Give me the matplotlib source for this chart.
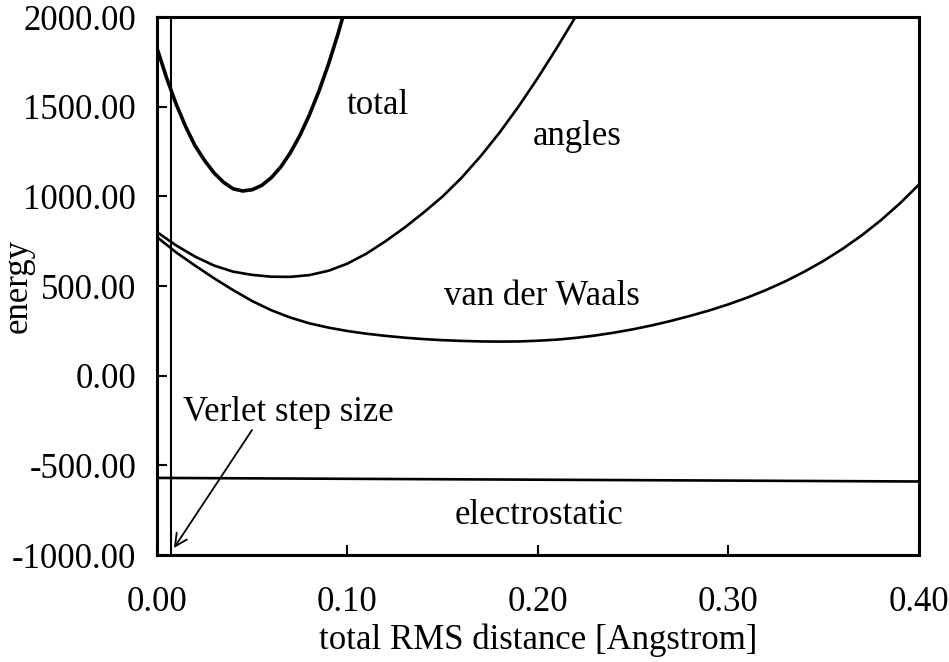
import matplotlib
matplotlib.use("Agg")
import matplotlib.pyplot as plt
from matplotlib.ticker import FormatStrFormatter

plt.rcParams['font.family'] = ['Liberation Serif', 'DejaVu Serif']
plt.rcParams['axes.unicode_minus'] = False

# ---- data ----
total_x = [0.0, 0.005, 0.01, 0.015, 0.02, 0.025, 0.03, 0.035, 0.04, 0.045, 0.05,
           0.055, 0.06, 0.065, 0.07, 0.075, 0.08, 0.085, 0.09, 0.095, 0.1]
total_y = [1827, 1662, 1516, 1390, 1282, 1200, 1130, 1078, 1042, 1030, 1037,
           1061, 1104, 1164, 1243, 1339, 1454, 1586, 1736, 1905, 2091]

angles_x = [0.0, 0.01, 0.02, 0.03, 0.04, 0.05, 0.06, 0.07, 0.08, 0.09, 0.10, 0.11,
            0.12, 0.13, 0.14, 0.15, 0.16, 0.17, 0.18, 0.19, 0.20, 0.21, 0.22, 0.23]
angles_y = [801, 727, 664, 614, 580, 562, 552, 551, 561, 585, 625, 681,
            750, 826, 910, 1000, 1105, 1225, 1358, 1504, 1662, 1830, 2006, 2190]

vdw_x = [0.0, 0.01, 0.02, 0.03, 0.04, 0.05, 0.06, 0.07, 0.08, 0.09, 0.10,
         0.11, 0.12, 0.13, 0.14, 0.15, 0.16, 0.17, 0.18, 0.19, 0.20,
         0.21, 0.22, 0.23, 0.24, 0.25, 0.26, 0.27, 0.28, 0.29, 0.30,
         0.31, 0.32, 0.33, 0.34, 0.35, 0.36, 0.37, 0.38, 0.39, 0.40]
vdw_y = [773, 688, 614, 543, 477, 416, 365, 324, 292, 268, 249,
         234, 222, 212, 204, 198, 194, 191, 190, 191, 195,
         201, 211, 224, 240, 259, 281, 306, 334, 364, 398,
         436, 479, 527, 581, 641, 708, 783, 867, 961, 1066]

elec_x = [0.0, 0.40]
elec_y = [-570, -590]

verlet_step = 0.0073

x_ticks = [0.0, 0.1, 0.2, 0.3, 0.4]
y_ticks = [-1000, -500, 0, 500, 1000, 1500, 2000]

labels = [
    ("total", 0.116, 1509),
    ("angles", 0.2205, 1331),
    ("van der Waals", 0.202, 444),
    ("electrostatic", 0.2005, -777),
    ("Verlet step size", 0.069, -203),
]
arrow_tail = (0.0499, -303)
arrow_head = (0.0089, -961)

fig = plt.figure(figsize=(9.49, 6.62), dpi=100)
ax = fig.add_axes([0.1654, 0.1616, 0.8030, 0.8127])

ax.plot(total_x, total_y, color='black', lw=2.6)
ax.plot(angles_x, angles_y, color='black', lw=1.9)
ax.plot(vdw_x, vdw_y, color='black', lw=1.9)
ax.plot(elec_x, elec_y, color='black', lw=1.9)
ax.axvline(verlet_step, color='black', lw=1.5)

fs = 25
for txt, x, y in labels:
    ax.text(x, y, txt, fontsize=fs, ha='center', va='center')

ax.annotate("", xy=arrow_head, xytext=arrow_tail,
            arrowprops=dict(arrowstyle='->', color='black', lw=1.3,
                            shrinkA=0, shrinkB=0, mutation_scale=22))

ax.set_xlim(0, 0.4)
ax.set_ylim(-1000, 2000)
ax.set_xticks(x_ticks)
ax.set_yticks(y_ticks)
ax.xaxis.set_major_formatter(FormatStrFormatter('%.2f'))
ax.yaxis.set_major_formatter(FormatStrFormatter('%.2f'))
ax.tick_params(direction='in', length=7, width=1.5, labelsize=fs,
               top=False, right=False)
ax.tick_params(axis='x', pad=22)
ax.tick_params(axis='y', pad=15)

for s in ax.spines.values():
    s.set_linewidth(2.2)
    s.set_color('black')

ax.set_xlabel("total RMS distance [Angstrom]", fontsize=fs, va='center')
ax.xaxis.set_label_coords(0.5, -0.158)
ax.set_ylabel("energy", fontsize=fs, va='center')
ax.yaxis.set_label_coords(-0.182, 0.5)

fig.savefig("out.png", dpi=100)
